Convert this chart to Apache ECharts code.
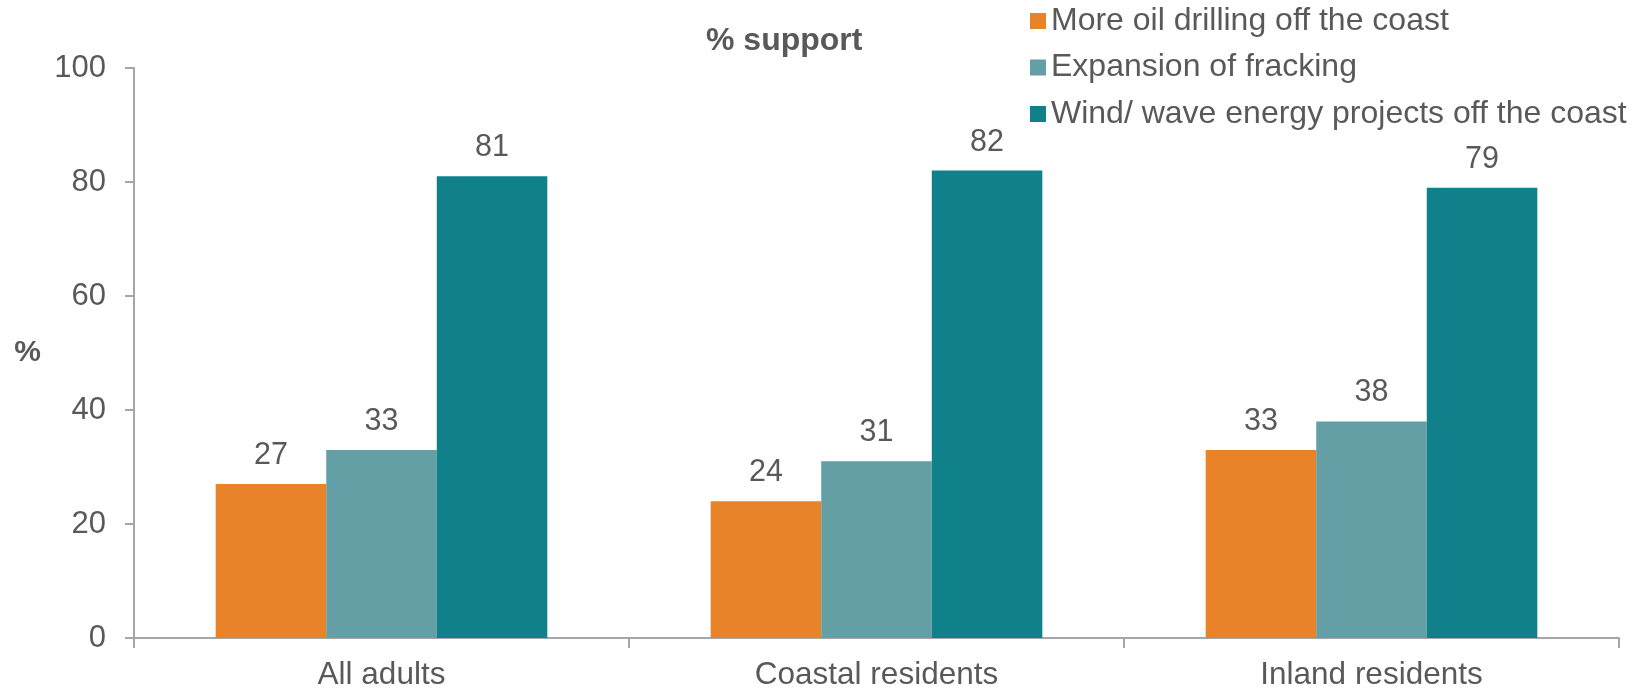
<!DOCTYPE html>
<html>
<head>
<meta charset="utf-8">
<script src="https://cdn.jsdelivr.net/npm/echarts@6/dist/echarts.min.js"></script>
<style>
html,body{margin:0;padding:0;background:#fff;}
#chart{width:1648px;height:692px;}
</style>
</head>
<body>
<div id="chart"></div>
<script>
const categories = ['All adults', 'Coastal residents', 'Inland residents'];
const seriesNames = ['More oil drilling off the coast', 'Expansion of fracking', 'Wind/ wave energy projects off the coast'];
const oilDrilling = [27, 24, 33];
const fracking = [33, 31, 38];
const windWave = [81, 82, 79];
const yTicks = [0, 20, 40, 60, 80, 100];
const colors = ['#E8832A', '#639FA5', '#10818A'];

const FONT = '"Liberation Sans", Arial, sans-serif';
const TXT = '#595959';
const chart = echarts.init(document.getElementById('chart'), null, {renderer: 'canvas'});

const values = [oilDrilling, fracking, windWave];
chart.setOption({
  animation: false,
  backgroundColor: '#ffffff',
  title: {
    text: '% support',
    left: 701,
    top: 20,
    textStyle: {fontFamily: FONT, fontSize: 32, fontWeight: 'bold', color: TXT}
  },
  legend: {
    orient: 'vertical',
    left: 1025,
    top: 0,
    itemWidth: 16,
    itemHeight: 16,
    itemGap: 14.5,
    icon: 'rect',
    data: seriesNames,
    textStyle: {fontFamily: FONT, fontSize: 32, color: TXT}
  },
  grid: {left: 134, right: 29, top: 68, bottom: 54, containLabel: false},
  xAxis: {
    type: 'category',
    data: categories,
    axisLine: {lineStyle: {color: '#A6A6A6', width: 2}},
    axisTick: {show: true, length: 10, lineStyle: {color: '#A6A6A6', width: 2}},
    axisLabel: {fontFamily: FONT, fontSize: 31.5, color: TXT, margin: 21}
  },
  yAxis: {
    type: 'value',
    min: yTicks[0],
    max: yTicks[yTicks.length - 1],
    interval: 20,
    name: '%',
    nameLocation: 'middle',
    nameRotate: 0,
    nameGap: 93,
    nameTextStyle: {fontFamily: FONT, fontSize: 30, fontWeight: 'bold', color: TXT},
    splitLine: {show: false},
    axisLine: {show: true, lineStyle: {color: '#A6A6A6', width: 2}},
    axisTick: {show: true, length: 9, lineStyle: {color: '#A6A6A6', width: 2}},
    axisLabel: {fontFamily: FONT, fontSize: 31, color: TXT, margin: 28}
  },
  series: seriesNames.map((name, i) => ({
    name: name,
    type: 'bar',
    data: values[i],
    barGap: '0%',
    barCategoryGap: '33%',
    itemStyle: {color: colors[i]},
    label: {show: true, position: 'top', distance: 13, fontFamily: FONT, fontSize: 30.5, color: TXT}
  }))
});
</script>
</body>
</html>
